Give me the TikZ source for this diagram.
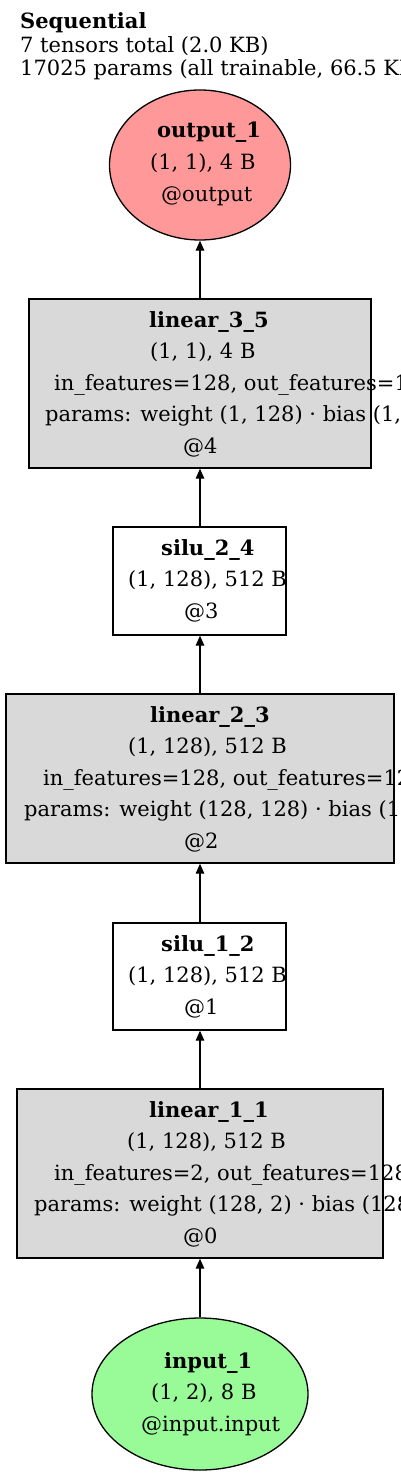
\documentclass[tikz,border=0pt]{standalone}
\usepackage{fontspec}
\setmainfont{DejaVu Serif}
\usetikzlibrary{shapes.geometric,arrows.meta}
\definecolor{outfill}{HTML}{FF9999}
\definecolor{infill}{HTML}{98FB98}
\definecolor{opfill}{HTML}{D9D9D9}
\tikzset{
  shapebox/.style={draw=black, line width=1.3pt, inner sep=0pt},
  ellnode/.style={shapebox, ellipse},
  rectnode/.style={shapebox, rectangle},
  txt/.style={anchor=base west, inner sep=0pt, font=\fontsize{21}{25}\selectfont},
  ttl/.style={anchor=base west, inner sep=0pt, font=\fontsize{21}{25}\selectfont},
  edge/.style={line width=1.3pt, -{Triangle[length=10pt,width=8.5pt]}},
}
\begin{document}
\begin{tikzpicture}[x=1pt,y=-1pt]
\useasboundingbox (0,0) rectangle (400,1477);
\fill[white] (0,0) rectangle (400,1477);
% title
\node[ttl] (ti1) at (20,29) {\bfseries Sequential};
\node[ttl] (ti2) at (20,53) {7 tensors total (2.0 KB)};
\node[ttl] (ti3) at (20,76) {17025 params (all trainable, 66.5 KB)};
% shapes
\node[ellnode, fill=outfill, minimum width=181pt, minimum height=150pt] (out) at (200,165) {};
\node[rectnode, fill=opfill, minimum width=342pt, minimum height=169pt] (l35) at (200,383.5) {};
\node[rectnode, fill=white, minimum width=173pt, minimum height=108pt] (s24) at (199.5,581) {};
\node[rectnode, fill=opfill, minimum width=388pt, minimum height=169pt] (l23) at (200,778.5) {};
\node[rectnode, fill=white, minimum width=173pt, minimum height=107pt] (s12) at (199.5,976.5) {};
\node[rectnode, fill=opfill, minimum width=366pt, minimum height=169pt] (l11) at (200,1173.5) {};
\node[ellnode, fill=infill, minimum width=216pt, minimum height=152pt] (inp) at (200,1394) {};
% edges
\draw[edge] (inp.north) -- (l11.south);
\draw[edge] (l11.north) -- (s12.south -| l11.north);
\draw[edge] (s12.north -| l11.north) -- (l23.south);
\draw[edge] (l23.north) -- (s24.south -| l23.north);
\draw[edge] (s24.north -| l23.north) -- (l35.south);
\draw[edge] (l35.north) -- (out.south);
% output_1
\node[txt] (o1) at (157,138) {\bfseries output\_1};
\node[txt] (o2) at (150,169.5) {(1, 1), 4 B};
\node[txt] (o3) at (161,201) {@output};
% linear_3_5
\node[txt] (a1) at (149,327) {\bfseries linear\_3\_5};
\node[txt] (a2) at (150,358.5) {(1, 1), 4 B};
\node[txt] (a3) at (54,390) {in\_features=128, out\_features=1};
\node[txt] (a4) at (45,421.5) {params: weight (1, 128) · bias (1,)};
\node[txt] (a5) at (183,453) {@4};
% silu_2_4
\node[txt] (b1) at (161,555) {\bfseries silu\_2\_4};
\node[txt] (b2) at (128,586.5) {(1, 128), 512 B};
\node[txt] (b3) at (184,618) {@3};
% linear_2_3
\node[txt] (c1) at (150,722) {\bfseries linear\_2\_3};
\node[txt] (c2) at (128,753.5) {(1, 128), 512 B};
\node[txt] (c3) at (43,785) {in\_features=128, out\_features=128};
\node[txt] (c4) at (24,816.5) {params: weight (128, 128) · bias (128,)};
\node[txt] (c5) at (184,848) {@2};
% silu_1_2
\node[txt] (d1) at (161,951) {\bfseries silu\_1\_2};
\node[txt] (d2) at (128,982.5) {(1, 128), 512 B};
\node[txt] (d3) at (184,1014) {@1};
% linear_1_1
\node[txt] (e1) at (149,1117) {\bfseries linear\_1\_1};
\node[txt] (e2) at (127,1148.5) {(1, 128), 512 B};
\node[txt] (e3) at (54,1180) {in\_features=2, out\_features=128};
\node[txt] (e4) at (34,1211.5) {params: weight (128, 2) · bias (128,)};
\node[txt] (e5) at (183,1243) {@0};
% input_1
\node[txt] (f1) at (164,1368) {\bfseries input\_1};
\node[txt] (f2) at (151,1399.5) {(1, 2), 8 B};
\node[txt] (f3) at (141,1431) {@input.input};
\end{tikzpicture}
\end{document}
